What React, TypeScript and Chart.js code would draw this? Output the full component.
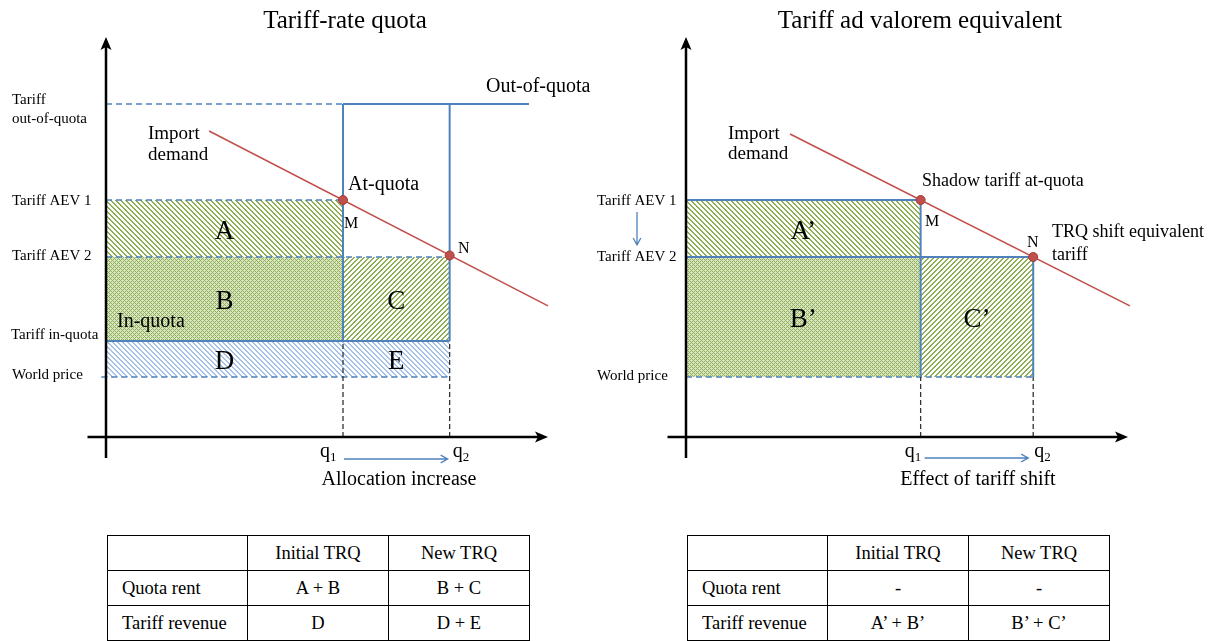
import React, { useEffect, useRef } from 'react';
import { Chart, registerables } from 'chart.js';

Chart.register(...registerables);

// ---------- data ----------
// price levels (vertical axis units)
const WORLD_PRICE = 20;
const TARIFF_IN_QUOTA = 32;
const TARIFF_AEV2 = 60;
const TARIFF_AEV1 = 79;
const TARIFF_OUT_OF_QUOTA = 111;

// quantities (horizontal axis units)
const LEFT_Q = [100, 145]; // q1, q2
const RIGHT_Q = [99, 146.5];
const OUT_OF_QUOTA_END = 178.5;

// import demand lines
const LEFT_DEMAND_X = [43.5, 186.5];
const LEFT_DEMAND_Y = [102, 43.7];
const RIGHT_DEMAND_X = [43.9, 187.3];
const RIGHT_DEMAND_Y = [101, 43.7];

// points M and N
const LEFT_MN_Y = [79, 60.5];
const RIGHT_MN_Y = [79, 60];

// axis extents
const AXIS_X_RANGE = [-7.8, 186.5];
const AXIS_Y_RANGE = [-7, 133.3];

// tables
const TABLE_HEADERS = ['', 'Initial TRQ', 'New TRQ'];
const TABLE_ROWS = ['Quota rent', 'Tariff revenue'];
const LEFT_TABLE = [
  ['A + B', 'B + C'],
  ['D', 'D + E'],
];
const RIGHT_TABLE = [
  ['-', '-'],
  ['A\u2019 + B\u2019', 'B\u2019 + C\u2019'],
];

// ---------- styles ----------
const FONT = '"Liberation Serif", "Times New Roman", serif';
const BLUE = '#4F81BD';
const RED = '#C0504D';
const GREEN = '#8fb055';
const LIGHT_BLUE = '#a6c2e6';

type Kind = 'down' | 'up' | 'cross';

function makePattern(kind: Kind, color: string, s: number, w: number, bg?: string) {
  const c = document.createElement('canvas');
  c.width = s;
  c.height = s;
  const ctx = c.getContext('2d')!;
  if (bg) {
    ctx.fillStyle = bg;
    ctx.fillRect(0, 0, s, s);
  }
  ctx.fillStyle = color;
  for (let i = 0; i < s; i++) {
    for (let j = 0; j < s; j++) {
      const d = (((i - j) % s) + s) % s;
      const u = (i + j) % s;
      const onDown = (kind === 'down' || kind === 'cross') && d < w;
      const onUp = (kind === 'up' || kind === 'cross') && u < w;
      if (onDown || onUp) ctx.fillRect(i, j, 1, 1);
    }
  }
  return ctx.createPattern(c, 'repeat') as CanvasPattern;
}

function seg(x1: number, y1: number, x2: number, y2: number, color: string, width: number, dash: number[] = []) {
  return {
    data: [
      { x: x1, y: y1 },
      { x: x2, y: y2 },
    ],
    borderColor: color,
    borderWidth: width,
    borderDash: dash,
    pointRadius: 0,
    fill: false,
    tension: 0,
    clip: false as any,
  };
}

function rect(x0: number, x1: number, y0: number, y1: number, pattern: CanvasPattern) {
  return {
    data: [
      { x: x0, y: y1 },
      { x: x1, y: y1 },
    ],
    borderColor: 'transparent',
    borderWidth: 0,
    pointRadius: 0,
    backgroundColor: pattern,
    fill: { value: y0 },
    tension: 0,
  };
}

function points(xs: number[], ys: number[]) {
  return {
    data: xs.map((x, i) => ({ x, y: ys[i] })),
    showLine: false,
    pointRadius: 4.5,
    pointBackgroundColor: RED,
    pointBorderColor: '#a33a36',
    pointBorderWidth: 1,
    clip: false as any,
  };
}

function txt(ctx: CanvasRenderingContext2D, s: string, x: number, y: number, size: number, align: CanvasTextAlign = 'left') {
  ctx.font = `${size}px ${FONT}`;
  ctx.fillStyle = '#000';
  ctx.textAlign = align;
  ctx.textBaseline = 'alphabetic';
  ctx.fillText(s, x, y);
}

function qLabel(ctx: CanvasRenderingContext2D, sub: string, x: number) {
  txt(ctx, 'q', x, 457, 20);
  ctx.font = `20px ${FONT}`;
  const w = ctx.measureText('q').width;
  txt(ctx, sub, x + w, 461, 13);
}

function drawAxes(chart: any) {
  const ctx: CanvasRenderingContext2D = chart.ctx;
  const xs = chart.scales.x;
  const ys = chart.scales.y;
  const ox = xs.getPixelForValue(0);
  const oy = ys.getPixelForValue(0);
  const yb = ys.getPixelForValue(AXIS_Y_RANGE[0]);
  const yt = ys.getPixelForValue(AXIS_Y_RANGE[1]);
  const xl = xs.getPixelForValue(AXIS_X_RANGE[0]);
  const xr = xs.getPixelForValue(AXIS_X_RANGE[1]);
  ctx.save();
  ctx.strokeStyle = '#000';
  ctx.fillStyle = '#000';
  ctx.lineWidth = 2.5;
  ctx.setLineDash([]);
  ctx.beginPath();
  ctx.moveTo(ox, yb);
  ctx.lineTo(ox, yt + 8);
  ctx.stroke();
  ctx.beginPath();
  ctx.moveTo(ox, yt);
  ctx.lineTo(ox - 5.5, yt + 13);
  ctx.lineTo(ox, yt + 10);
  ctx.lineTo(ox + 5.5, yt + 13);
  ctx.closePath();
  ctx.fill();
  ctx.beginPath();
  ctx.moveTo(xl, oy);
  ctx.lineTo(xr - 8, oy);
  ctx.stroke();
  ctx.beginPath();
  ctx.moveTo(xr, oy);
  ctx.lineTo(xr - 13, oy - 5.5);
  ctx.lineTo(xr - 10, oy);
  ctx.lineTo(xr - 13, oy + 5.5);
  ctx.closePath();
  ctx.fill();
  ctx.restore();
}

function thinArrow(ctx: CanvasRenderingContext2D, x1: number, y1: number, x2: number, y2: number) {
  const a = Math.atan2(y2 - y1, x2 - x1);
  ctx.save();
  ctx.strokeStyle = BLUE;
  ctx.lineWidth = 1.3;
  ctx.setLineDash([]);
  ctx.beginPath();
  ctx.moveTo(x1, y1);
  ctx.lineTo(x2, y2);
  ctx.moveTo(x2 - 8 * Math.cos(a - 0.5), y2 - 8 * Math.sin(a - 0.5));
  ctx.lineTo(x2, y2);
  ctx.lineTo(x2 - 8 * Math.cos(a + 0.5), y2 - 8 * Math.sin(a + 0.5));
  ctx.stroke();
  ctx.restore();
}

function baseOptions(padLeft: number, padRight: number) {
  return {
    responsive: false,
    animation: false as const,
    devicePixelRatio: 1,
    events: [] as any[],
    layout: { padding: { left: padLeft, right: padRight, top: 47, bottom: 83 } },
    plugins: {
      legend: { display: false },
      tooltip: { enabled: false },
      title: { display: false },
    },
    scales: {
      x: { type: 'linear' as const, min: 0, max: 200, display: false },
      y: { type: 'linear' as const, min: 0, max: 130, display: false },
    },
  };
}

const CROSS_BG = '#dae5c5';

function makeLeft(canvas: HTMLCanvasElement) {
  const down = makePattern('down', GREEN, 5, 2);
  const up = makePattern('up', GREEN, 5, 2);
  const cross = makePattern('cross', GREEN, 4, 1, CROSS_BG);
  const blueDown = makePattern('down', LIGHT_BLUE, 5, 2);
  const [q1, q2] = LEFT_Q;
  const dash = [6, 4];
  const layers: any[] = [
    rect(0, q2, WORLD_PRICE, TARIFF_IN_QUOTA, blueDown),
    rect(0, q1, TARIFF_AEV2, TARIFF_AEV1, down),
    rect(0, q1, TARIFF_IN_QUOTA, TARIFF_AEV2, cross),
    rect(q1, q2, TARIFF_IN_QUOTA, TARIFF_AEV2, up),
    seg(0, TARIFF_OUT_OF_QUOTA, q1, TARIFF_OUT_OF_QUOTA, BLUE, 1.3, dash),
    seg(q1, TARIFF_OUT_OF_QUOTA, OUT_OF_QUOTA_END, TARIFF_OUT_OF_QUOTA, BLUE, 2),
    seg(0, TARIFF_AEV1, q1, TARIFF_AEV1, BLUE, 1.3, dash),
    seg(0, TARIFF_AEV2, q2, TARIFF_AEV2, BLUE, 1.3, dash),
    seg(-2, WORLD_PRICE, q2, WORLD_PRICE, BLUE, 1.3, dash),
    seg(0, TARIFF_IN_QUOTA, q2, TARIFF_IN_QUOTA, BLUE, 2),
    seg(q1, TARIFF_IN_QUOTA, q1, TARIFF_OUT_OF_QUOTA, BLUE, 2),
    seg(q2, TARIFF_IN_QUOTA, q2, TARIFF_OUT_OF_QUOTA, BLUE, 2),
    seg(q1, 0, q1, TARIFF_IN_QUOTA, '#333', 1.3, [5, 3]),
    seg(q2, 0, q2, TARIFF_IN_QUOTA, '#333', 1.3, [5, 3]),
    seg(LEFT_DEMAND_X[0], LEFT_DEMAND_Y[0], LEFT_DEMAND_X[1], LEFT_DEMAND_Y[1], RED, 1.6),
    points(LEFT_Q, LEFT_MN_Y),
  ];
  const datasets = layers.reverse();
  const plugin = {
    id: 'leftAnno',
    afterDraw(chart: any) {
      const ctx: CanvasRenderingContext2D = chart.ctx;
      const xs = chart.scales.x;
      const ys = chart.scales.y;
      const px = (v: number) => xs.getPixelForValue(v);
      const py = (v: number) => ys.getPixelForValue(v);
      drawAxes(chart);
      ctx.save();
      txt(ctx, 'Tariff-rate quota', 345, 28, 25, 'center');
      txt(ctx, 'Tariff', 12, py(TARIFF_OUT_OF_QUOTA), 15);
      txt(ctx, 'out-of-quota', 12, py(TARIFF_OUT_OF_QUOTA) + 19, 15);
      txt(ctx, 'Tariff AEV 1', 12, py(TARIFF_AEV1) + 5, 15);
      txt(ctx, 'Tariff AEV 2', 12, py(TARIFF_AEV2) + 3, 15);
      txt(ctx, 'Tariff in-quota', 11, py(TARIFF_IN_QUOTA) - 2, 15);
      txt(ctx, 'World price', 12, py(WORLD_PRICE) + 2, 15);
      txt(ctx, 'Import', 148, 139, 19);
      txt(ctx, 'demand', 148, 160, 19);
      txt(ctx, 'Out-of-quota', 486, 92, 20);
      txt(ctx, 'At-quota', 348, 190, 20);
      txt(ctx, 'M', 344, 228, 16);
      txt(ctx, 'N', 458, 253, 16);
      txt(ctx, 'In-quota', 117, 327, 20);
      const big = (s: string, x0: number, x1: number, y0: number, y1: number) =>
        txt(ctx, s, (px(x0) + px(x1)) / 2, (py(y0) + py(y1)) / 2 + 10, 27, 'center');
      big('A', 0, LEFT_Q[0], TARIFF_AEV2, TARIFF_AEV1);
      big('B', 0, LEFT_Q[0], TARIFF_IN_QUOTA, TARIFF_AEV2);
      big('C', LEFT_Q[0], LEFT_Q[1], TARIFF_IN_QUOTA, TARIFF_AEV2);
      big('D', 0, LEFT_Q[0], WORLD_PRICE, TARIFF_IN_QUOTA);
      big('E', LEFT_Q[0], LEFT_Q[1], WORLD_PRICE, TARIFF_IN_QUOTA);
      qLabel(ctx, '1', px(LEFT_Q[0]) - 23);
      qLabel(ctx, '2', px(LEFT_Q[1]) + 3);
      thinArrow(ctx, px(LEFT_Q[0]) + 1, 459, px(LEFT_Q[1]) - 2, 459);
      txt(ctx, 'Allocation increase', 399, 485, 20, 'center');
      ctx.restore();
    },
  };
  return new Chart(canvas, {
    type: 'line',
    data: { datasets },
    options: baseOptions(106, 20) as any,
    plugins: [plugin],
  });
}

function makeRight(canvas: HTMLCanvasElement) {
  const down = makePattern('down', GREEN, 5, 2);
  const up = makePattern('up', GREEN, 5, 2);
  const cross = makePattern('cross', GREEN, 4, 1, CROSS_BG);
  const [q1, q2] = RIGHT_Q;
  const dash = [6, 4];
  const layers: any[] = [
    rect(0, q1, TARIFF_AEV2, TARIFF_AEV1, down),
    rect(0, q1, WORLD_PRICE, TARIFF_AEV2, cross),
    rect(q1, q2, WORLD_PRICE, TARIFF_AEV2, up),
    seg(0, WORLD_PRICE, q2, WORLD_PRICE, BLUE, 1.3, dash),
    seg(0, TARIFF_AEV1, q1, TARIFF_AEV1, BLUE, 2),
    seg(0, TARIFF_AEV2, q2, TARIFF_AEV2, BLUE, 2),
    seg(q1, WORLD_PRICE, q1, TARIFF_AEV1, BLUE, 2),
    seg(q2, WORLD_PRICE, q2, TARIFF_AEV2, BLUE, 2),
    seg(q1, 0, q1, WORLD_PRICE, '#333', 1.3, [5, 3]),
    seg(q2, 0, q2, WORLD_PRICE, '#333', 1.3, [5, 3]),
    seg(RIGHT_DEMAND_X[0], RIGHT_DEMAND_Y[0], RIGHT_DEMAND_X[1], RIGHT_DEMAND_Y[1], RED, 1.6),
    points(RIGHT_Q, RIGHT_MN_Y),
  ];
  const datasets = layers.reverse();
  const OFF = 585;
  const plugin = {
    id: 'rightAnno',
    afterDraw(chart: any) {
      const ctx: CanvasRenderingContext2D = chart.ctx;
      const xs = chart.scales.x;
      const ys = chart.scales.y;
      const px = (v: number) => xs.getPixelForValue(v);
      const py = (v: number) => ys.getPixelForValue(v);
      drawAxes(chart);
      ctx.save();
      txt(ctx, 'Tariff ad valorem equivalent', 920 - OFF, 28, 25, 'center');
      txt(ctx, 'Tariff AEV 1', 597 - OFF, py(TARIFF_AEV1) + 5, 15);
      txt(ctx, 'Tariff AEV 2', 597 - OFF, py(TARIFF_AEV2) + 4, 15);
      txt(ctx, 'World price', 597 - OFF, py(WORLD_PRICE) + 3, 15);
      txt(ctx, 'Import', 728 - OFF, 139, 19);
      txt(ctx, 'demand', 728 - OFF, 159, 19);
      txt(ctx, 'Shadow tariff at-quota', 922 - OFF, 186, 18);
      txt(ctx, 'M', 925 - OFF, 226, 16);
      txt(ctx, 'N', 1027 - OFF, 247, 16);
      txt(ctx, 'TRQ shift equivalent', 1052 - OFF, 237, 18);
      txt(ctx, 'tariff', 1052 - OFF, 260, 18);
      const big = (s: string, x0: number, x1: number, y0: number, y1: number) =>
        txt(ctx, s, (px(x0) + px(x1)) / 2, (py(y0) + py(y1)) / 2 + 10, 27, 'center');
      big('A\u2019', 0, RIGHT_Q[0], TARIFF_AEV2, TARIFF_AEV1);
      big('B\u2019', 0, RIGHT_Q[0], WORLD_PRICE, TARIFF_AEV2);
      big('C\u2019', RIGHT_Q[0], RIGHT_Q[1], WORLD_PRICE, TARIFF_AEV2);
      qLabel(ctx, '1', px(RIGHT_Q[0]) - 16);
      qLabel(ctx, '2', px(RIGHT_Q[1]) + 1);
      thinArrow(ctx, px(RIGHT_Q[0]) + 4, 458, px(RIGHT_Q[1]) - 5, 458);
      txt(ctx, 'Effect of tariff shift', 978 - OFF, 485, 20, 'center');
      thinArrow(ctx, 637 - OFF, 212, 637 - OFF, 245);
      ctx.restore();
    },
  };
  return new Chart(canvas, {
    type: 'line',
    data: { datasets },
    options: baseOptions(101, 62) as any,
    plugins: [plugin],
  });
}

function TrqTable({ left, cells }: { left: number; cells: string[][] }) {
  const td = (align: 'left' | 'center'): React.CSSProperties => ({
    border: '1px solid #000',
    padding: 0,
    paddingLeft: align === 'left' ? 14 : 0,
    textAlign: align,
    verticalAlign: 'middle',
    height: 34,
  });
  return (
    <table
      style={{
        position: 'absolute',
        left,
        top: 535,
        width: 422,
        borderCollapse: 'collapse',
        tableLayout: 'fixed',
        fontFamily: FONT,
        fontSize: 18.5,
        color: '#000',
      }}
    >
      <colgroup>
        <col style={{ width: 140 }} />
        <col style={{ width: 141 }} />
        <col style={{ width: 141 }} />
      </colgroup>
      <tbody>
        <tr>
          {TABLE_HEADERS.map((h, i) => (
            <td key={i} style={td(i === 0 ? 'left' : 'center')}>
              {h}
            </td>
          ))}
        </tr>
        {TABLE_ROWS.map((r, ri) => (
          <tr key={r}>
            <td style={td('left')}>{r}</td>
            {cells[ri].map((c, ci) => (
              <td key={ci} style={td('center')}>
                {c}
              </td>
            ))}
          </tr>
        ))}
      </tbody>
    </table>
  );
}

export default function App() {
  const leftRef = useRef<HTMLCanvasElement>(null);
  const rightRef = useRef<HTMLCanvasElement>(null);
  useEffect(() => {
    const charts = [makeLeft(leftRef.current!), makeRight(rightRef.current!)];
    return () => charts.forEach((c) => c.destroy());
  }, []);
  return (
    <div
      style={{
        position: 'fixed',
        left: 0,
        top: 0,
        width: 1222,
        height: 641,
        background: '#fff',
        overflow: 'hidden',
      }}
    >
      <canvas ref={leftRef} width={600} height={520} style={{ position: 'absolute', left: 0, top: 0, width: 600, height: 520 }} />
      <canvas ref={rightRef} width={637} height={520} style={{ position: 'absolute', left: 585, top: 0, width: 637, height: 520 }} />
      <TrqTable left={107} cells={LEFT_TABLE} />
      <TrqTable left={687} cells={RIGHT_TABLE} />
    </div>
  );
}
